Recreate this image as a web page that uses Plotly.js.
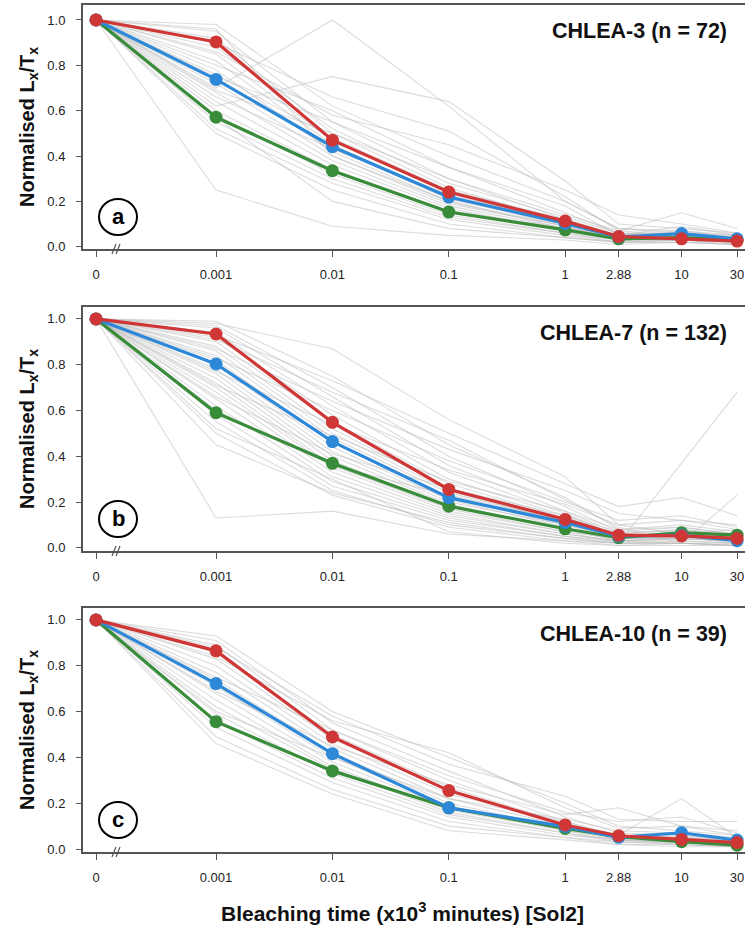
<!DOCTYPE html>
<html>
<head>
<meta charset="utf-8">
<script src="https://cdn.plot.ly/plotly-3.0.1.min.js"></script>
<style>
  html, body { margin: 0; padding: 0; background: #fff; overflow: hidden; }
  #chart { width: 770px; height: 929px; }
</style>
</head>
<body>
<div id="chart"></div>
<script>
// Bleaching times (x10^3 minutes) and their tick labels
const TIMES = [0, 0.001, 0.01, 0.1, 1, 2.88, 10, 30];
const TICK_LABELS = ['0', '0.001', '0.01', '0.1', '1', '2.88', '10', '30'];

const PANEL_TITLES = ['CHLEA-3 (n = 72)', 'CHLEA-7 (n = 132)', 'CHLEA-10 (n = 39)'];
const PANEL_LETTERS = ['a', 'b', 'c'];

// Summary curves, CHLEA-3
const redA   = [1.0, 0.903, 0.470, 0.241, 0.113, 0.045, 0.035, 0.025];
const blueA  = [1.0, 0.738, 0.441, 0.219, 0.103, 0.043, 0.058, 0.035];
const greenA = [1.0, 0.571, 0.335, 0.153, 0.074, 0.035, 0.040, 0.030];

// Summary curves, CHLEA-7
const redB   = [1.0, 0.934, 0.548, 0.255, 0.124, 0.055, 0.052, 0.041];
const blueB  = [1.0, 0.803, 0.464, 0.219, 0.111, 0.051, 0.055, 0.031];
const greenB = [1.0, 0.590, 0.369, 0.182, 0.083, 0.044, 0.066, 0.055];

// Summary curves, CHLEA-10
const redC   = [1.0, 0.865, 0.489, 0.255, 0.105, 0.058, 0.042, 0.028];
const blueC  = [1.0, 0.722, 0.416, 0.180, 0.098, 0.051, 0.071, 0.039];
const greenC = [1.0, 0.556, 0.341, 0.180, 0.090, 0.054, 0.032, 0.017];

// Individual aliquot curves, CHLEA-3
const greyA = [
  [1, 0.98, 0.62, 0.40, 0.20, 0.08, 0.06, 0.05],
  [1, 0.95, 0.55, 0.30, 0.12, 0.05, 0.04, 0.03],
  [1, 0.92, 0.50, 0.26, 0.11, 0.04, 0.05, 0.03],
  [1, 0.88, 0.52, 0.28, 0.13, 0.06, 0.05, 0.04],
  [1, 0.85, 0.47, 0.24, 0.10, 0.03, 0.04, 0.02],
  [1, 0.82, 0.45, 0.22, 0.09, 0.04, 0.06, 0.03],
  [1, 0.80, 0.60, 0.35, 0.15, 0.06, 0.05, 0.04],
  [1, 0.78, 0.42, 0.20, 0.08, 0.03, 0.03, 0.02],
  [1, 0.76, 0.48, 0.25, 0.12, 0.05, 0.07, 0.04],
  [1, 0.74, 0.44, 0.21, 0.10, 0.04, 0.04, 0.03],
  [1, 0.72, 0.40, 0.19, 0.09, 0.03, 0.05, 0.02],
  [1, 0.70, 1.00, 0.62, 0.20, 0.08, 0.07, 0.05],
  [1, 0.68, 0.38, 0.18, 0.08, 0.04, 0.04, 0.03],
  [1, 0.66, 0.43, 0.23, 0.11, 0.05, 0.06, 0.04],
  [1, 0.64, 0.36, 0.17, 0.07, 0.03, 0.03, 0.02],
  [1, 0.62, 0.75, 0.64, 0.29, 0.10, 0.08, 0.06],
  [1, 0.60, 0.34, 0.16, 0.08, 0.04, 0.05, 0.03],
  [1, 0.58, 0.32, 0.14, 0.06, 0.02, 0.03, 0.02],
  [1, 0.55, 0.30, 0.13, 0.06, 0.03, 0.04, 0.02],
  [1, 0.52, 0.28, 0.12, 0.05, 0.02, 0.03, 0.01],
  [1, 0.50, 0.25, 0.10, 0.04, 0.02, 0.02, 0.01],
  [1, 0.25, 0.09, 0.05, 0.03, 0.01, 0.02, 0.01],
  [1, 0.90, 0.66, 0.51, 0.22, 0.07, 0.15, 0.08],
  [1, 0.86, 0.58, 0.45, 0.25, 0.14, 0.10, 0.06],
  [1, 0.75, 0.55, 0.35, 0.18, 0.05, 0.09, 0.05],
  [1, 0.69, 0.50, 0.30, 0.14, 0.07, 0.05, 0.04],
  [1, 0.96, 0.40, 0.20, 0.09, 0.03, 0.04, 0.03],
  [1, 0.57, 0.20, 0.08, 0.04, 0.02, 0.02, 0.01]
];

// Individual aliquot curves, CHLEA-7
const greyB = [
  [1, 0.13, 0.16, 0.06, 0.03, 0.02, 0.02, 0.01],
  [1, 0.98, 0.87, 0.56, 0.31, 0.10, 0.12, 0.08],
  [1, 0.99, 0.75, 0.45, 0.22, 0.08, 0.10, 0.07],
  [1, 0.97, 0.70, 0.40, 0.18, 0.07, 0.09, 0.06],
  [1, 0.96, 0.66, 0.36, 0.16, 0.06, 0.08, 0.05],
  [1, 0.94, 0.62, 0.33, 0.15, 0.05, 0.07, 0.04],
  [1, 0.92, 0.58, 0.30, 0.14, 0.05, 0.06, 0.04],
  [1, 0.90, 0.55, 0.28, 0.13, 0.06, 0.05, 0.05],
  [1, 0.88, 0.52, 0.26, 0.12, 0.04, 0.06, 0.03],
  [1, 0.86, 0.50, 0.25, 0.11, 0.05, 0.05, 0.04],
  [1, 0.84, 0.48, 0.24, 0.12, 0.04, 0.06, 0.05],
  [1, 0.82, 0.46, 0.22, 0.10, 0.05, 0.04, 0.03],
  [1, 0.80, 0.44, 0.21, 0.09, 0.03, 0.05, 0.04],
  [1, 0.78, 0.42, 0.20, 0.10, 0.04, 0.04, 0.03],
  [1, 0.76, 0.40, 0.19, 0.08, 0.05, 0.06, 0.04],
  [1, 0.74, 0.38, 0.18, 0.08, 0.03, 0.04, 0.03],
  [1, 0.72, 0.36, 0.17, 0.07, 0.04, 0.05, 0.02],
  [1, 0.70, 0.35, 0.16, 0.07, 0.02, 0.37, 0.68],
  [1, 0.68, 0.33, 0.15, 0.06, 0.03, 0.04, 0.03],
  [1, 0.65, 0.31, 0.14, 0.06, 0.03, 0.03, 0.02],
  [1, 0.62, 0.29, 0.13, 0.05, 0.02, 0.03, 0.02],
  [1, 0.58, 0.27, 0.12, 0.05, 0.03, 0.02, 0.02],
  [1, 0.55, 0.25, 0.10, 0.04, 0.02, 0.02, 0.01],
  [1, 0.50, 0.23, 0.09, 0.03, 0.01, 0.02, 0.01],
  [1, 0.45, 0.24, 0.11, 0.04, 0.02, 0.02, 0.01],
  [1, 0.93, 0.73, 0.50, 0.28, 0.18, 0.22, 0.14],
  [1, 0.87, 0.64, 0.43, 0.25, 0.15, 0.12, 0.10],
  [1, 0.83, 0.60, 0.38, 0.20, 0.12, 0.14, 0.09],
  [1, 0.77, 0.54, 0.34, 0.19, 0.10, 0.06, 0.08],
  [1, 0.91, 0.68, 0.47, 0.21, 0.09, 0.02, 0.23],
  [1, 0.71, 0.49, 0.29, 0.16, 0.08, 0.09, 0.06],
  [1, 0.66, 0.41, 0.26, 0.14, 0.07, 0.07, 0.05],
  [1, 0.60, 0.36, 0.23, 0.12, 0.06, 0.08, 0.06],
  [1, 0.52, 0.30, 0.07, 0.02, 0.01, 0.01, 0.01]
];

// Individual aliquot curves, CHLEA-10
const greyC = [
  [1, 0.93, 0.60, 0.40, 0.20, 0.10, 0.08, 0.06],
  [1, 0.91, 0.55, 0.34, 0.14, 0.07, 0.06, 0.04],
  [1, 0.89, 0.52, 0.30, 0.12, 0.06, 0.05, 0.03],
  [1, 0.86, 0.50, 0.27, 0.11, 0.05, 0.04, 0.03],
  [1, 0.83, 0.48, 0.26, 0.10, 0.06, 0.22, 0.05],
  [1, 0.80, 0.46, 0.24, 0.12, 0.05, 0.05, 0.04],
  [1, 0.77, 0.44, 0.22, 0.10, 0.04, 0.06, 0.03],
  [1, 0.74, 0.42, 0.20, 0.09, 0.05, 0.04, 0.02],
  [1, 0.71, 0.40, 0.19, 0.08, 0.04, 0.03, 0.02],
  [1, 0.68, 0.38, 0.18, 0.09, 0.06, 0.05, 0.03],
  [1, 0.65, 0.36, 0.17, 0.08, 0.05, 0.04, 0.02],
  [1, 0.62, 0.35, 0.16, 0.07, 0.04, 0.03, 0.02],
  [1, 0.59, 0.33, 0.15, 0.07, 0.03, 0.03, 0.01],
  [1, 0.56, 0.31, 0.14, 0.06, 0.04, 0.02, 0.01],
  [1, 0.53, 0.29, 0.12, 0.05, 0.03, 0.02, 0.01],
  [1, 0.49, 0.26, 0.10, 0.05, 0.02, 0.02, 0.01],
  [1, 0.46, 0.24, 0.08, 0.04, 0.02, 0.01, 0.01],
  [1, 0.88, 0.58, 0.37, 0.23, 0.13, 0.12, 0.12],
  [1, 0.84, 0.56, 0.42, 0.18, 0.09, 0.10, 0.08],
  [1, 0.75, 0.52, 0.32, 0.16, 0.12, 0.14, 0.07],
  [1, 0.69, 0.45, 0.28, 0.15, 0.18, 0.10, 0.06],
  [1, 0.60, 0.40, 0.22, 0.13, 0.08, 0.07, 0.05]
];

// ---- drawing ----
const FONT = 'Liberation Sans, Arial, Helvetica, sans-serif';
const FRAME = '#555555';
const RED = '#cf3636', BLUE = '#2e88d8', GREEN = '#388c3a';
const GREY = 'rgba(185,185,185,0.5)';

// t = 0 cannot sit on a log axis, so it is drawn about one decade left of 0.001
const ZERO_POS = 9.31e-5;
const X = TIMES.map(t => (t === 0 ? ZERO_POS : t));

// plot-area geometry in pixels
const PLOT_L = 83, PLOT_R = 750, PLOT_T = 5, PLOT_B = 852;
const PANEL_PX = [[5, 249], [307, 551], [608, 852]];
const Y_RANGES = [[-0.010, 1.066], [-0.014, 1.052], [-0.013, 1.052]];
const X_RANGE = [-4.143, 1.588];
const px2x = px => (px - PLOT_L) / (PLOT_R - PLOT_L);
const px2y = py => (PLOT_B - py) / (PLOT_B - PLOT_T);

const panels = [
  { grey: greyA, red: redA, blue: blueA, green: greenA },
  { grey: greyB, red: redB, blue: blueB, green: greenB },
  { grey: greyC, red: redC, blue: blueC, green: greenC }
];

const traces = [];
panels.forEach((p, i) => {
  const xa = i === 0 ? 'x' : 'x' + (i + 1);
  const ya = i === 0 ? 'y' : 'y' + (i + 1);
  p.grey.forEach(vals => {
    traces.push({
      x: X, y: vals, xaxis: xa, yaxis: ya, type: 'scatter', mode: 'lines',
      line: { color: GREY, width: 1.1 }, hoverinfo: 'skip', showlegend: false
    });
  });
  [[p.green, GREEN], [p.blue, BLUE], [p.red, RED]].forEach(([vals, col]) => {
    traces.push({
      x: X, y: vals, xaxis: xa, yaxis: ya, type: 'scatter', mode: 'lines+markers',
      line: { color: col, width: 3.2 }, marker: { color: col, size: 13 },
      showlegend: false
    });
  });
});

const layout = {
  width: 770, height: 929,
  margin: { l: PLOT_L, r: 770 - PLOT_R, t: PLOT_T, b: 929 - PLOT_B },
  paper_bgcolor: '#ffffff', plot_bgcolor: '#ffffff',
  font: { family: FONT, color: '#222222', size: 13 },
  showlegend: false,
  annotations: [], shapes: []
};

PANEL_PX.forEach(([top, bot], i) => {
  const n = i === 0 ? '' : String(i + 1);
  layout['xaxis' + n] = {
    type: 'log', range: X_RANGE,
    domain: [0, 1], anchor: 'y' + n,
    tickmode: 'array', tickvals: X, ticktext: TICK_LABELS,
    ticks: 'outside', ticklen: 6, tickwidth: 1, tickcolor: FRAME,
    ticklabelstandoff: 6,
    showline: true, mirror: true, linecolor: FRAME, linewidth: 2,
    showgrid: false, zeroline: false,
    tickfont: { family: FONT, size: 13, color: '#222' }
  };
  layout['yaxis' + n] = {
    range: Y_RANGES[i], domain: [px2y(bot), px2y(top)], anchor: 'x' + n,
    tickmode: 'array', tickvals: [0, 0.2, 0.4, 0.6, 0.8, 1.0], tickformat: '.1f',
    ticks: 'outside', ticklen: 5, tickwidth: 1, tickcolor: FRAME,
    ticklabelstandoff: 8,
    showline: true, mirror: true, linecolor: FRAME, linewidth: 2,
    showgrid: false, zeroline: false,
    tickfont: { family: FONT, size: 13, color: '#222' }
  };

  // y-axis title
  layout.annotations.push({
    xref: 'paper', yref: 'paper', x: px2x(28), y: px2y((top + bot) / 2),
    xanchor: 'center', yanchor: 'middle', textangle: -90, showarrow: false,
    text: '<b>Normalised L<sub>x</sub>/T<sub>x</sub></b>',
    font: { family: FONT, size: 20, color: '#111' }
  });
  // panel title, top right
  layout.annotations.push({
    xref: 'paper', yref: 'paper', x: px2x(729), y: px2y(top + 26),
    xanchor: 'right', yanchor: 'middle', showarrow: false,
    text: '<b>' + PANEL_TITLES[i] + '</b>',
    font: { family: FONT, size: 21.5, color: '#111' }
  });
  // circled panel letter
  const cx = 118, cy = top + 212;
  layout.shapes.push({
    type: 'circle', xref: 'paper', yref: 'paper',
    x0: px2x(cx - 19), x1: px2x(cx + 19), y0: px2y(cy + 18), y1: px2y(cy - 18),
    line: { color: '#000', width: 2 }, fillcolor: 'rgba(0,0,0,0)'
  });
  layout.annotations.push({
    xref: 'paper', yref: 'paper', x: px2x(cx), y: px2y(cy - 1),
    xanchor: 'center', yanchor: 'middle', showarrow: false,
    text: '<b>' + PANEL_LETTERS[i] + '</b>',
    font: { family: FONT, size: 22, color: '#000' }
  });
  // axis-break marks between 0 and 0.001
  [112, 116].forEach(sx => {
    layout.shapes.push({
      type: 'line', xref: 'paper', yref: 'paper',
      x0: px2x(sx), y0: px2y(bot + 5), x1: px2x(sx + 4), y1: px2y(bot - 5),
      line: { color: FRAME, width: 1.2 }
    });
  });
});

// x-axis title
layout.annotations.push({
  xref: 'paper', yref: 'paper', x: px2x(402), y: px2y(912),
  xanchor: 'center', yanchor: 'middle', showarrow: false,
  text: '<b>Bleaching time (x10<sup>3</sup> minutes) [Sol2]</b>',
  font: { family: FONT, size: 21, color: '#111' }
});

Plotly.newPlot('chart', traces, layout, { staticPlot: true, displayModeBar: false });
</script>
</body>
</html>
